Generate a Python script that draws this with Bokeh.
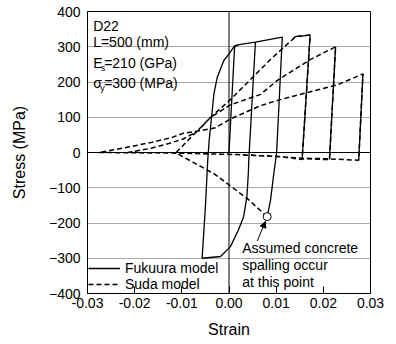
from bokeh.plotting import figure
from bokeh.models import (FixedTicker, Span, Legend, LegendItem, Arrow, NormalHead,
                          NumeralTickFormatter, Range1d)
from bokeh.core.properties import value
from bokeh.embed import file_html
from bokeh.resources import INLINE

# ---- data ----
fukuura_strain = [0.0, 0.0012, 0.0021, 0.0056, 0.0042, 0.0041, 0.0038, 0.0031, 0.0020,
                  0.0003, -0.0018, -0.0057, -0.0050, -0.0045, -0.0042, -0.0037, -0.0032,
                  -0.0025, -0.0011, 0.0000, 0.0010, 0.0021, 0.0056, 0.0113, 0.0101,
                  0.0095, 0.0088, 0.0081]
fukuura_stress = [0, 303, 306, 313, -20, -59, -125, -182, -220,
                  -267, -295, -300, -154, -20, 35, 100, 166,
                  213, 261, 280, 299, 306, 313, 327, 0,
                  -60, -136, -182]

suda_strain = [0.0081, 0.0039, -0.0032, -0.0103, -0.0112,
               -0.0039, 0.0003, 0.0088, 0.0134, 0.0141, 0.0172, 0.0155,
               0.0109, 0.0017, -0.0100, -0.0215,
               -0.0165, -0.0124, -0.0096, -0.0065, -0.0039, 0.0003, 0.0067, 0.0102, 0.0173, 0.0226, 0.0213,
               0.0155, 0.0109, 0.0017, -0.0100, -0.0276,
               -0.0219, -0.0163, -0.0120, -0.0096, -0.0060, -0.0029, 0.0003, 0.0067, 0.0109, 0.0230, 0.0284, 0.0275,
               0.0213, 0.0155, 0.0109, 0.0017]
suda_stress = [-182, -131, -60, -8, 0,
               100, 150, 264, 320, 329, 333, -20,
               -12, -6, -2, 0,
               12, 27, 39, 62, 100, 135, 165, 204, 264, 300, -20,
               -18, -12, -6, -2, 0,
               14, 29, 43, 55, 62, 70, 95, 133, 150, 192, 223, -22,
               -18, -16, -12, -6]
# unloading branches of the Suda path that are drawn solid (start, stop index)
suda_unload_segments = [(8, 12), (25, 27), (42, 44)]

spalling_strain = [0.0081]
spalling_stress = [-182]

x_ticks = [-0.03, -0.02, -0.01, 0.0, 0.01, 0.02, 0.03]
y_ticks = [-400, -300, -200, -100, 0, 100, 200, 300, 400]

FONT = "Liberation Sans"

p = figure(width=390, height=344, output_backend="svg", toolbar_location=None,
           x_range=Range1d(-0.03, 0.03), y_range=Range1d(-400, 400),
           min_border_left=87, min_border_right=20, min_border_top=11, min_border_bottom=51)
p.background_fill_color = "white"
p.border_fill_color = "white"
p.outline_line_color = "black"
p.outline_line_width = 1

# axes
p.xaxis.ticker = FixedTicker(ticks=x_ticks)
p.yaxis.ticker = FixedTicker(ticks=y_ticks)
p.xaxis.formatter = NumeralTickFormatter(format="0.00")
p.xaxis.axis_label = "Strain"
p.yaxis.axis_label = "Stress (MPa)"
for ax in (p.xaxis, p.yaxis):
    ax.axis_label_text_font = FONT
    ax.axis_label_text_font_style = "normal"
    ax.axis_label_text_font_size = "16px"
    ax.axis_label_text_color = "black"
    ax.major_label_text_font = FONT
    ax.major_label_text_font_size = "14px"
    ax.major_label_text_color = "black"
    ax.minor_tick_line_color = None
    ax.axis_line_color = "black"
    ax.major_tick_line_color = "black"
    ax.major_tick_out = 0
p.xaxis.major_tick_in = 7
p.yaxis.major_tick_in = 0
p.xaxis.major_label_standoff = 4
p.yaxis.major_label_standoff = 7
p.xaxis.axis_label_standoff = 10
p.yaxis.axis_label_standoff = 18

p.xgrid.grid_line_color = None
p.ygrid.ticker = FixedTicker(ticks=[-300, -200, -100, 100, 200, 300])
p.ygrid.grid_line_color = "#555555"
p.ygrid.grid_line_dash = "1 1"
p.ygrid.grid_line_width = 1

p.add_layout(Span(location=0, dimension="width", line_color="black", line_width=1))
p.add_layout(Span(location=0, dimension="height", line_color="black", line_width=1))

# curves
r_f = p.line(fukuura_strain, fukuura_stress, line_color="black", line_width=1.3)
r_s = p.line(suda_strain, suda_stress, line_color="black", line_width=1.5, line_dash="5 3")
for a, b in suda_unload_segments:
    p.line(suda_strain[a:b], suda_stress[a:b], line_color="black", line_width=1.3)

p.scatter(spalling_strain, spalling_stress, marker="circle", size=8,
          fill_color="white", line_color="black", line_width=1)

p.add_layout(Arrow(end=NormalHead(size=6, fill_color="black", line_color="black"),
                   x_start=0.0060, y_start=-251, x_end=0.0077, y_end=-196,
                   line_color="black", line_width=1))

# annotation text
ann_kw = dict(text_font=value(FONT), text_font_size="14px", text_color="black",
              text_baseline="middle", text_align="left")
p.text(x=[0.0028, 0.0028, 0.0028], y=[-270, -320, -367],
       text=["Assumed concrete", "spalling occur", "at this point"], **ann_kw)

p.text(x=[-0.0288, -0.0288], y=[360, 314], text=["D22", "L=500 (mm)"], **ann_kw)
p.text(x=[-0.0288], y=[253], text=["E"], **ann_kw)
p.text(x=[-0.0288], y=[253], text=["s"], x_offset=7.5, y_offset=5,
       text_font=value(FONT), text_font_size="9px", text_color="black",
       text_baseline="middle", text_align="left")
p.text(x=[-0.0288], y=[253], text=["=210 (GPa)"], x_offset=11, **ann_kw)
p.text(x=[-0.0288], y=[196], text=["σ"], **ann_kw)
p.text(x=[-0.0288], y=[196], text=["y"], x_offset=7, y_offset=5,
       text_font=value(FONT), text_font_size="9px", text_color="black",
       text_baseline="middle", text_align="left")
p.text(x=[-0.0288], y=[196], text=["=300 (MPa)"], x_offset=11, **ann_kw)

legend = Legend(items=[LegendItem(label="Fukuura model", renderers=[r_f]),
                       LegendItem(label="Suda model", renderers=[r_s])],
                location="bottom_left", glyph_width=32, glyph_height=14,
                label_height=14, label_standoff=5, spacing=0, padding=5, margin=1,
                label_text_font=FONT, label_text_font_size="14px", label_text_color="black",
                border_line_color=None, background_fill_alpha=0)
p.add_layout(legend)

open("out.html", "w").write(file_html(p, INLINE))
